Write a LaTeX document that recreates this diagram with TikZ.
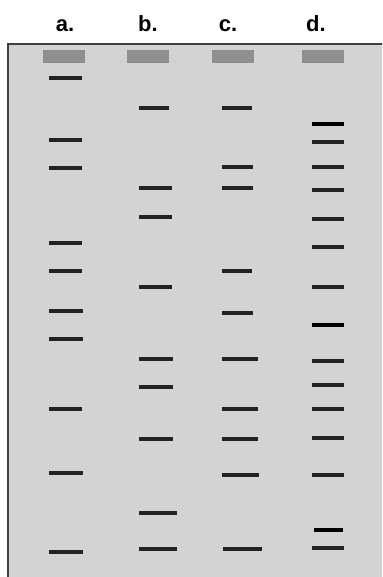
\documentclass[tikz,border=0pt]{standalone}
\usepackage{fontspec}
\setmainfont{Liberation Sans}
\usetikzlibrary{positioning}
\definecolor{gelgray}{HTML}{D3D3D3}
\definecolor{wellgray}{HTML}{8F8F8F}
\definecolor{bandgray}{HTML}{222222}

\begin{document}
\begin{tikzpicture}[x=1pt, y=-1pt,
    lanelabel/.style={font=\bfseries\fontsize{22}{26}\selectfont, anchor=base},
    well/.style={fill=wellgray},
    band/.style={draw=bandgray, line width=3.2pt},
    strongband/.style={draw=black, line width=3.6pt}]
    \useasboundingbox (0,0) rectangle (382,577);
    \clip (0,0) rectangle (382,577);
    \draw[fill=gelgray, draw=black!75, line width=2pt] (8,44) rectangle (400,600);
    \node[lanelabel] (la) at (65,32) {a.};
    \node[lanelabel] (lb) at (148,32) {b.};
    \node[lanelabel] (lc) at (228,32) {c.};
    \node[lanelabel] (ld) at (316,32) {d.};
    \foreach \x in {43,127,212,302}
        \fill[well] (\x,50) rectangle ++(42,13);
    % lane a
    \foreach \y/\r in {78/82, 140/82, 168/82, 243/82, 271/82, 311/83, 339/83, 409/82, 473/83, 552/83}
        \draw[band] (49,\y) -- (\r,\y);
    % lane b
    \foreach \y/\r in {108/169, 188/172, 217/172, 287/172, 359/173, 387/173, 439/173, 513/177, 549/177}
        \draw[band] (139,\y) -- (\r,\y);
    % lane c
    \foreach \y/\r in {108/252, 167/253, 188/253, 271/252, 313/253, 359/258, 409/258, 439/258, 475/259}
        \draw[band] (222,\y) -- (\r,\y);
    \draw[band] (223,549) -- (262,549);
    % lane d
    \foreach \y in {142, 167, 190, 219, 247, 287, 361, 385, 409, 438, 475, 548}
        \draw[band] (312,\y) -- (344,\y);
    \foreach \y in {124, 325}
        \draw[strongband] (312,\y) -- (344,\y);
    \draw[strongband] (314,530) -- (343,530);
\end{tikzpicture}
\end{document}
